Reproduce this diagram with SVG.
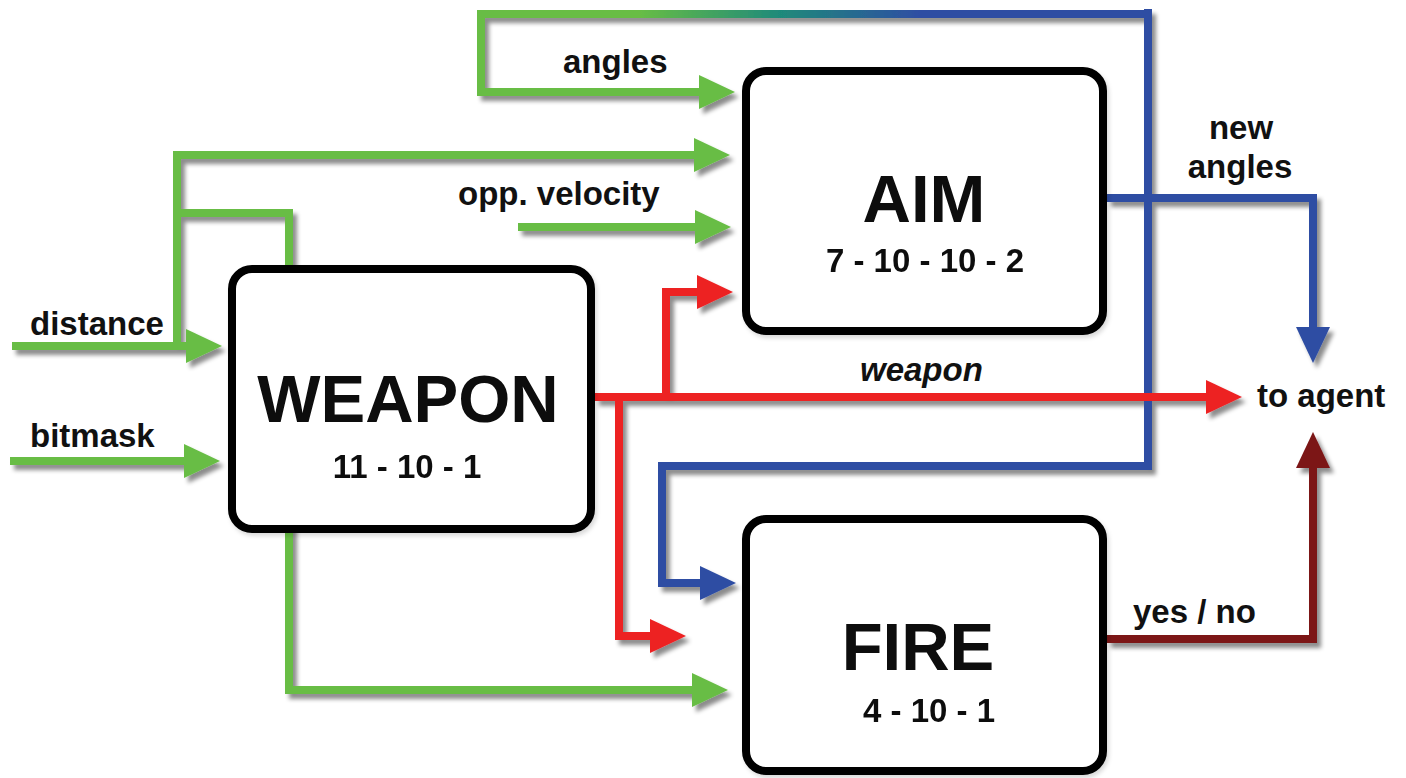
<svg xmlns="http://www.w3.org/2000/svg" width="1406" height="778" viewBox="0 0 1406 778">
  <style>
    .wire { fill: none; stroke-width: 8; stroke-linejoin: miter; stroke-linecap: butt; }
    .g { stroke: #67bd45; }
    .r { stroke: #ed2024; }
    .b { stroke: #2f4ea3; }
    .d { stroke: #7b1517; }
    .box { fill: #ffffff; stroke: #000000; stroke-width: 8; }
    .title { font-family: "Liberation Sans", Arial, sans-serif; font-weight: bold; font-size: 67px; fill: #0a0a0a; text-anchor: middle; }
    .sub { font-family: "Liberation Sans", Arial, sans-serif; font-weight: bold; font-size: 33px; fill: #111111; text-anchor: middle; }
    .lbl { font-family: "Liberation Sans", Arial, sans-serif; font-weight: bold; font-size: 33px; fill: #111111; }
  </style>
  <defs>
    <filter id="shadow" x="-10%" y="-10%" width="120%" height="120%">
      <feDropShadow dx="4" dy="5" stdDeviation="2" flood-color="#000000" flood-opacity="0.45"/>
    </filter>
    <filter id="boxShadow" x="-5%" y="-5%" width="110%" height="110%">
      <feDropShadow dx="2" dy="3" stdDeviation="2" flood-color="#000000" flood-opacity="0.15"/>
    </filter>
    <linearGradient id="topFade" gradientUnits="userSpaceOnUse" x1="640" y1="0" x2="920" y2="0">
      <stop offset="0" stop-color="#67bd45"/>
      <stop offset="0.5" stop-color="#1f8a7a"/>
      <stop offset="1" stop-color="#2f4ea3"/>
    </linearGradient>
    <marker id="ahG" markerUnits="userSpaceOnUse" markerWidth="36" markerHeight="36" refX="0" refY="17" orient="auto" overflow="visible">
      <path d="M0,0 L36,17 L0,34 Z" fill="#67bd45"/>
    </marker>
    <marker id="ahR" markerUnits="userSpaceOnUse" markerWidth="36" markerHeight="36" refX="0" refY="17" orient="auto" overflow="visible">
      <path d="M0,0 L36,17 L0,34 Z" fill="#ed2024"/>
    </marker>
    <marker id="ahB" markerUnits="userSpaceOnUse" markerWidth="36" markerHeight="36" refX="0" refY="17" orient="auto" overflow="visible">
      <path d="M0,0 L36,17 L0,34 Z" fill="#2f4ea3"/>
    </marker>
    <marker id="ahD" markerUnits="userSpaceOnUse" markerWidth="36" markerHeight="36" refX="0" refY="17" orient="auto" overflow="visible">
      <path d="M0,0 L36,17 L0,34 Z" fill="#7b1517"/>
    </marker>
  </defs>

  <rect width="1406" height="778" fill="#ffffff"/>

  <g id="connectors" filter="url(#shadow)">
    <!-- inputs to WEAPON -->
    <path class="wire g" d="M12,346 L186,346" marker-end="url(#ahG)"/>
    <path class="wire g" d="M10,461 L184,461" marker-end="url(#ahG)"/>
    <!-- distance up to AIM -->
    <path class="wire g" d="M177,350 L177,155 L694,155" marker-end="url(#ahG)"/>
    <!-- branch through WEAPON down to FIRE -->
    <path class="wire g" d="M177,213 L289,213 L289,690 L692,690" marker-end="url(#ahG)"/>
    <!-- opp. velocity -->
    <path class="wire g" d="M518,227 L695,227" marker-end="url(#ahG)"/>
    <!-- angles feedback loop: blue leg into FIRE, fading top run, green leg into AIM -->
    <path class="wire b" d="M1148,9 L1148,466 L662,466 L662,583 L700,583" marker-end="url(#ahB)"/>
    <path class="wire" stroke="url(#topFade)" d="M1152,14 L477,14"/>
    <path class="wire g" d="M481,10 L481,92 L699,92" marker-end="url(#ahG)"/>
    <!-- new angles to agent -->
    <path class="wire b" d="M1107,198 L1313,198 L1313,327" marker-end="url(#ahB)"/>
    <!-- weapon output -->
    <path class="wire r" d="M595,397 L1206,397" marker-end="url(#ahR)"/>
    <path class="wire r" d="M666,397 L666,292 L697,292" marker-end="url(#ahR)"/>
    <path class="wire r" d="M619,397 L619,636 L650,636" marker-end="url(#ahR)"/>
    <!-- fire decision to agent -->
    <path class="wire d" d="M1107,639 L1313,639 L1313,468" marker-end="url(#ahD)"/>
  </g>

  <g id="weapon" filter="url(#boxShadow)">
    <rect class="box" x="232" y="269" width="359" height="260" rx="20"/>
    <text class="title" x="408" y="422">WEAPON</text>
    <text class="sub" x="407" y="478">11 - 10 - 1</text>
  </g>

  <g id="aim" filter="url(#boxShadow)">
    <rect class="box" x="746" y="71" width="357" height="260" rx="20"/>
    <text class="title" x="924" y="222">AIM</text>
    <text class="sub" x="925" y="272">7 - 10 - 10 - 2</text>
  </g>

  <g id="fire" filter="url(#boxShadow)">
    <rect class="box" x="746" y="519" width="357" height="252" rx="20"/>
    <text class="title" x="918" y="670">FIRE</text>
    <text class="sub" x="929" y="722">4 - 10 - 1</text>
  </g>

  <g id="labels">
    <text class="lbl" x="563" y="73">angles</text>
    <text class="lbl" x="458" y="205">opp. velocity</text>
    <text class="lbl" x="30" y="335">distance</text>
    <text class="lbl" x="30" y="447">bitmask</text>
    <text class="lbl" x="860" y="381" font-style="italic">weapon</text>
    <text class="lbl" x="1241" y="139" text-anchor="middle">new</text>
    <text class="lbl" x="1240" y="178" text-anchor="middle">angles</text>
    <text class="lbl" x="1257" y="407">to agent</text>
    <text class="lbl" x="1133" y="623">yes / no</text>
  </g>
</svg>
